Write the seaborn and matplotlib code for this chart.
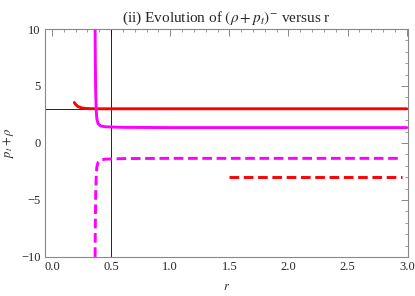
import matplotlib
matplotlib.use("Agg")
import matplotlib.pyplot as plt
from matplotlib.ticker import MultipleLocator
import seaborn as sns

# values
red_r = [0.19, 0.20, 0.22, 0.25, 0.28, 0.32, 0.40, 0.60, 1.0, 2.0, 3.0]
red_y = [3.55, 3.38, 3.20, 3.08, 3.03, 3.01, 3.0, 3.0, 3.0, 3.0, 3.0]

mag_r = [0.365, 0.367, 0.370, 0.375, 0.380, 0.390, 0.410, 0.450, 0.60, 1.0, 3.0]
mag_y = [10.0, 7.0, 4.5, 2.8, 2.1, 1.7, 1.5, 1.42, 1.37, 1.35, 1.35]

mag_neg_r = [0.365, 0.367, 0.370, 0.375, 0.380, 0.390, 0.410, 0.450, 0.60, 1.0, 2.96]
mag_neg_y = [-10.0, -7.0, -4.5, -2.8, -2.1, -1.7, -1.5, -1.42, -1.37, -1.35, -1.35]

red_neg_r = [1.5, 2.96]
red_neg_y = [-3.0, -3.0]

sns.set_style("white")
plt.rcParams["font.family"] = ["Liberation Serif", "DejaVu Serif"]
plt.rcParams["mathtext.fontset"] = "stix"

fig = plt.figure(figsize=(4.15, 2.96), dpi=100)
ax = fig.add_axes([0.108, 0.132, 0.875, 0.770])

# Mathematica-style axes crossing at (0.5, 3)
ax.axvline(0.5, color="black", lw=0.6, zorder=1)
ax.axhline(3, color="black", lw=0.6, zorder=1)

dash = (0, (3.3, 1.6))
sns.lineplot(x=red_r, y=red_y, ax=ax, color="#ff0000", lw=2.1, sort=False, estimator=None)
sns.lineplot(x=mag_r, y=mag_y, ax=ax, color="#ff00ff", lw=2.1, sort=False, estimator=None)
sns.lineplot(x=mag_neg_r, y=mag_neg_y, ax=ax, color="#ff00ff", lw=2.1, sort=False,
             estimator=None, linestyle=dash)
sns.lineplot(x=red_neg_r, y=red_neg_y, ax=ax, color="#ff0000", lw=2.1, sort=False,
             estimator=None, linestyle=dash)

ax.set_xlim(-0.06, 3.01)
ax.set_ylim(-10, 10)
ax.xaxis.set_major_locator(MultipleLocator(0.5))
ax.xaxis.set_minor_locator(MultipleLocator(0.1))
ax.yaxis.set_major_locator(MultipleLocator(5))
ax.yaxis.set_minor_locator(MultipleLocator(1))
ax.xaxis.set_major_formatter(plt.FuncFormatter(lambda v, p: f"{v:.1f}"))
ax.yaxis.set_major_formatter(plt.FuncFormatter(lambda v, p: f"{v:.0f}".replace("-", "\u2212")))

ax.tick_params(which="both", direction="in", top=True, right=True, color="#888888",
               labelsize=9, pad=3)
ax.tick_params(which="major", length=5, width=0.7)
ax.tick_params(which="minor", length=2.5, width=0.6)
for s in ax.spines.values():
    s.set_color("#888888")
    s.set_linewidth(0.8)

ax.set_xlabel("$r$", fontsize=9, labelpad=6)
ax.set_ylabel(r"$p_t + \rho$", fontsize=9, labelpad=4)
ax.set_title(r"(ii) Evolution of $(\rho + p_t)^{-}$ versus r", fontsize=11, pad=5)

fig.savefig("out.png", dpi=100)
